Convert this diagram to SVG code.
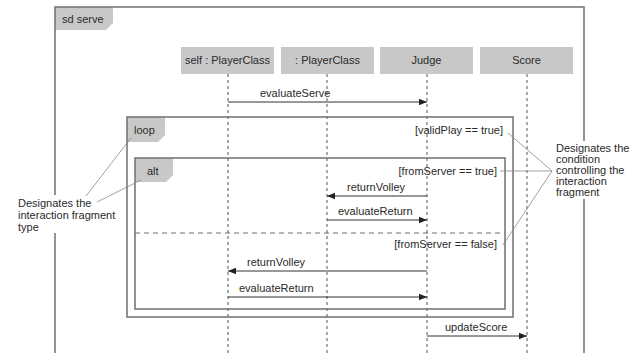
<svg xmlns="http://www.w3.org/2000/svg" width="631" height="353" viewBox="0 0 631 353">
<defs>
<style>
text{font-family:"Liberation Sans",Arial,sans-serif;font-size:11px;fill:#2a2a2a}
.frame{fill:none;stroke:#707070;stroke-width:1.5}
.tab{fill:#c8c8c8;stroke:none}
.head{fill:#c8c8c8}
.life{stroke:#555;stroke-width:1;stroke-dasharray:3,3}
.msg{stroke:#333;stroke-width:1;fill:none}
.note{stroke:#888;stroke-width:0.8;fill:none}
.mid{text-anchor:middle}
.end{text-anchor:end}
</style>
<marker id="ah" viewBox="0 0 10 10" refX="10" refY="5" markerWidth="8" markerHeight="8" markerUnits="userSpaceOnUse" orient="auto">
<path d="M0,1 L10,5 L0,9 Z" fill="#222"/>
</marker>
</defs>
<rect width="631" height="353" fill="#fff"/>
<g id="frame-sd">
<path class="tab" d="M55,7 L113,7 L113,23 L106,30 L55,30 Z"/>
<path class="frame" d="M55,353 L55,7 L584,7 L584,353"/>
<text x="62" y="23">sd serve</text>
</g>
<g id="lifeline-self">
<rect class="head" x="181" y="47" width="93" height="27"/>
<text class="mid" x="227.5" y="64">self : PlayerClass</text>
<line class="life" x1="228" y1="74" x2="228" y2="353"/>
</g>
<g id="lifeline-player">
<rect class="head" x="281" y="47" width="93" height="27"/>
<text class="mid" x="327.5" y="64">: PlayerClass</text>
<line class="life" x1="327" y1="74" x2="327" y2="353"/>
</g>
<g id="lifeline-judge">
<rect class="head" x="380" y="47" width="93" height="27"/>
<text class="mid" x="426.5" y="64">Judge</text>
<line class="life" x1="427" y1="74" x2="427" y2="353"/>
</g>
<g id="lifeline-score">
<rect class="head" x="480" y="47" width="93" height="27"/>
<text class="mid" x="526.5" y="64">Score</text>
<line class="life" x1="527" y1="74" x2="527" y2="353"/>
</g>
<g id="fragment-loop">
<path class="tab" d="M127,117 L165,117 L165,135 L158,142 L127,142 Z"/>
<rect class="frame" x="127" y="117" width="386" height="200"/>
<text x="134" y="134">loop</text>
<text class="end" x="503" y="134">[validPlay == true]</text>
</g>
<g id="fragment-alt">
<path class="tab" d="M135,158 L173,158 L173,175 L166,182 L135,182 Z"/>
<rect class="frame" x="135" y="158" width="370" height="151"/>
<text x="147" y="175">alt</text>
<text class="end" x="497" y="175">[fromServer == true]</text>
<line x1="135" y1="233" x2="505" y2="233" stroke="#707070" stroke-width="1.2" stroke-dasharray="5,4"/>
<text class="end" x="497" y="248">[fromServer == false]</text>
</g>
<g id="connectors">
<line class="msg" x1="228" y1="102" x2="427" y2="102" marker-end="url(#ah)"/>
<text x="260" y="97">evaluateServe</text>
<line class="msg" x1="427" y1="196" x2="327" y2="196" marker-end="url(#ah)"/>
<text x="347" y="191">returnVolley</text>
<line class="msg" x1="327" y1="220" x2="427" y2="220" marker-end="url(#ah)"/>
<text x="338" y="215">evaluateReturn</text>
<line class="msg" x1="427" y1="271" x2="228" y2="271" marker-end="url(#ah)"/>
<text x="247" y="266">returnVolley</text>
<line class="msg" x1="228" y1="297" x2="427" y2="297" marker-end="url(#ah)"/>
<text x="239" y="292">evaluateReturn</text>
<line class="msg" x1="427" y1="336" x2="527" y2="336" marker-end="url(#ah)"/>
<text x="445" y="331">updateScore</text>
</g>
<g id="note-left">
<rect x="14" y="195" width="110" height="38" fill="#fff"/>
<line class="note" x1="131" y1="138" x2="86" y2="196"/>
<line class="note" x1="141" y1="180" x2="97" y2="202"/>
<text x="18" y="207">Designates the</text>
<text x="18" y="219">interaction fragment</text>
<text x="18" y="231">type</text>
</g>
<g id="note-right">
<rect x="552" y="141" width="79" height="58" fill="#fff"/>
<line class="note" x1="508" y1="133" x2="552" y2="171"/>
<line class="note" x1="500" y1="171" x2="552" y2="171"/>
<line class="note" x1="503" y1="245" x2="552" y2="171"/>
<text x="556" y="152">Designates the</text>
<text x="556" y="163">condition</text>
<text x="556" y="174">controlling the</text>
<text x="556" y="185">interaction</text>
<text x="556" y="196">fragment</text>
</g>
</svg>
